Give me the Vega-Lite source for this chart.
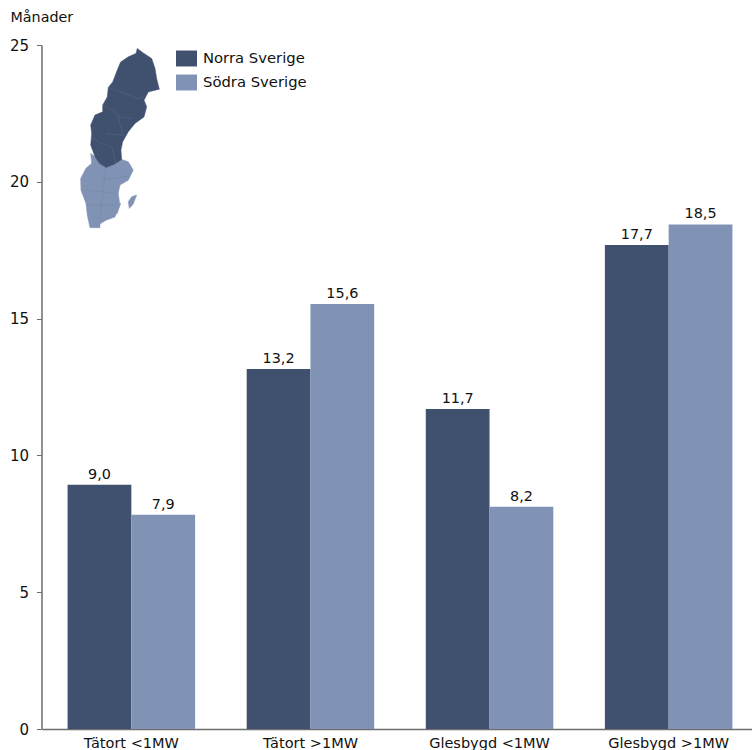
{"$schema":"https://vega.github.io/schema/vega-lite/v6.json","width":710.5,"height":684,"autosize":"none","padding":{"left":41.5,"top":45,"right":0,"bottom":21},"background":"white","config":{"view":{"stroke":null},"font":"DejaVu Sans"},"layer":[{"data":{"values":[{"group":"Tätort <1MW","region":"Norra Sverige","value":8.93,"label":"9,0"},{"group":"Tätort <1MW","region":"Södra Sverige","value":7.83,"label":"7,9"},{"group":"Tätort >1MW","region":"Norra Sverige","value":13.16,"label":"13,2"},{"group":"Tätort >1MW","region":"Södra Sverige","value":15.53,"label":"15,6"},{"group":"Glesbygd <1MW","region":"Norra Sverige","value":11.7,"label":"11,7"},{"group":"Glesbygd <1MW","region":"Södra Sverige","value":8.12,"label":"8,2"},{"group":"Glesbygd >1MW","region":"Norra Sverige","value":17.69,"label":"17,7"},{"group":"Glesbygd >1MW","region":"Södra Sverige","value":18.44,"label":"18,5"}]},"encoding":{"x":{"field":"group","type":"nominal","sort":null,"scale":{"range":[0.3,716.7],"paddingInner":0.288,"paddingOuter":0.144,"round":false},"axis":{"title":null,"labelAngle":0,"ticks":false,"domainColor":"#6e6e6e","domainWidth":1.5,"labelFontSize":14.5,"labelColor":"#111111","labelPadding":7,"grid":false}},"xOffset":{"field":"region","type":"nominal","sort":null},"y":{"field":"value","type":"quantitative","scale":{"domain":[0,25]},"axis":{"title":"Månader","titleAngle":0,"titleAnchor":"start","titleX":-31.5,"titleY":-28,"titleFontWeight":"normal","titleFontSize":14.3,"titleColor":"#111111","titleBaseline":"middle","titleAlign":"left","values":[0,5,10,15,20,25],"grid":false,"domainColor":"#6e6e6e","domainWidth":1.5,"tickColor":"#6e6e6e","tickSize":5,"labelFontSize":15,"labelColor":"#111111","labelPadding":8}}},"layer":[{"mark":{"type":"bar"},"encoding":{"color":{"field":"region","type":"nominal","scale":{"domain":["Norra Sverige","Södra Sverige"],"range":["#40506f","#8093b5"]},"legend":{"title":null,"orient":"none","legendX":134.5,"legendY":3,"symbolType":"M-1,-0.76H1V0.76H-1Z","symbolSize":441,"symbolStrokeWidth":0,"symbolOpacity":1,"labelFontSize":14.8,"labelColor":"#111111","rowPadding":5,"labelOffset":6,"labelLimit":200}}}},{"mark":{"type":"text","baseline":"alphabetic","dy":-6,"fontSize":14.4,"color":"#111111"},"encoding":{"text":{"field":"label","type":"nominal"}}}]},{"data":{"values":[{"type":"Feature","properties":{"area":"S"},"geometry":{"type":"MultiPolygon","coordinates":[[[[12.84,61.82],[13.55,61.55],[14.27,61.03],[15.39,60.68],[16.88,60.97],[18.0,61.34],[19.1,61.15],[19.93,60.48],[19.1,59.64],[17.72,59.22],[17.43,58.5],[17.72,57.47],[16.88,56.4],[15.4,56.1],[14.39,55.75],[14.39,55.4],[12.72,55.4],[12.27,56.56],[12.05,57.62],[11.22,58.79],[11.17,59.79],[12.05,60.63],[13.0,61.03],[12.84,61.82]]],[[[20.5,58.37],[19.93,57.58],[19.27,57.18],[19.1,57.78],[19.67,58.22],[20.5,58.37]]],[[[17.83,57.64],[17.55,57.21],[17.27,56.72],[17.13,56.75],[17.47,57.39],[17.83,57.64]]]]}}]},"mark":{"type":"geoshape","fill":"#8093b5","stroke":"#8093b5","strokeWidth":0.5},"projection":{"type":"mercator","scale":344,"translate":[-27.9,583.9]}},{"data":{"values":[{"type":"Feature","properties":{"area":"N"},"geometry":{"type":"Polygon","coordinates":[[[20.6,69.04],[21.6,68.77],[23.0,68.43],[23.55,67.82],[23.83,67.17],[24.27,66.47],[22.43,66.29],[21.72,65.73],[22.17,65.28],[21.72,64.56],[20.22,64.09],[19.1,63.47],[18.17,62.72],[17.88,62.08],[18.0,61.34],[16.88,60.97],[15.39,60.68],[14.27,61.03],[13.55,61.55],[12.84,62.47],[13.0,63.35],[12.84,63.97],[13.55,64.69],[14.84,64.92],[14.84,65.39],[15.6,65.95],[15.77,66.59],[16.5,66.95],[17.27,67.71],[17.83,68.22],[19.1,68.53],[20.38,68.74],[20.6,69.04]]]}}]},"mark":{"type":"geoshape","fill":"#40506f","stroke":"#40506f","strokeWidth":0.5},"projection":{"type":"mercator","scale":344,"translate":[-27.9,583.9]}},{"data":{"values":[{"type":"Feature","properties":{"area":"borders"},"geometry":{"type":"MultiLineString","coordinates":[[[15.77,66.59],[18.55,66.19],[20.5,65.85],[21.72,65.96]],[[14.84,65.39],[16.6,65.05],[17.43,64.56],[19.67,64.45]],[[17.43,64.56],[17.72,63.97],[18.27,63.22]],[[15.55,63.31],[18.27,63.22]],[[13.0,63.06],[14.39,62.62],[16.38,62.32],[17.05,61.03]],[[15.39,60.68],[14.89,58.79],[14.39,56.25]],[[12.05,58.79],[17.38,58.5]],[[12.22,57.47],[17.22,57.47]],[[14.89,59.64],[19.1,59.97]]]}}]},"mark":{"type":"geoshape","filled":false,"stroke":"#6b7891","strokeWidth":0.5,"strokeDash":[1.5,1]},"projection":{"type":"mercator","scale":344,"translate":[-27.9,583.9]}}]}
